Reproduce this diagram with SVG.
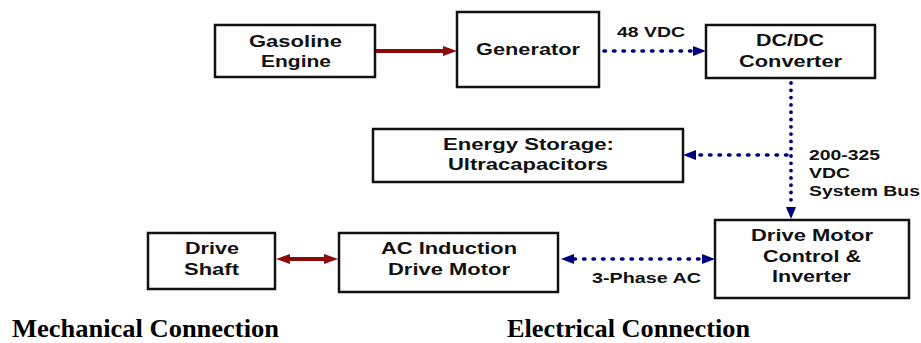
<svg xmlns="http://www.w3.org/2000/svg" width="921" height="343" viewBox="0 0 921 343">
<style>
.box{fill:#fff;stroke:#111;stroke-width:2.5}
.t{font-family:"Liberation Sans",Arial,sans-serif;font-weight:bold;font-size:17px;fill:#111}
.s{font-size:15px}
.cap{font-family:"Liberation Serif","Times New Roman",serif;font-weight:bold;font-size:25px;fill:#000}
.mech{stroke:#8b0a0a;stroke-width:4;fill:none}
.elh{stroke:#00007f;stroke-width:3.5;fill:none;stroke-dasharray:1.5 8;stroke-linecap:round}
.elv{stroke:#00007f;stroke-width:3.8;fill:none;stroke-dasharray:0 7.3;stroke-linecap:round}
</style>
<defs>
<marker id="ar" markerUnits="userSpaceOnUse" markerWidth="15" markerHeight="11" refX="1" refY="5" orient="auto-start-reverse"><path d="M0,0 L14,5 L0,10 z" fill="#8b0a0a"/></marker>
<marker id="ab" markerUnits="userSpaceOnUse" markerWidth="14" markerHeight="11" refX="0" refY="5" orient="auto-start-reverse"><path d="M0,0 L13,5 L0,10 z" fill="#00007f"/></marker>
</defs>
<rect width="921" height="343" fill="#fff"/>
<g id="connectors">
<line class="mech" x1="376" y1="51" x2="444" y2="51" marker-end="url(#ar)"/>
<line class="mech" x1="289" y1="259" x2="325" y2="259" marker-start="url(#ar)" marker-end="url(#ar)"/>
<line class="elh" x1="604" y1="51" x2="693" y2="51" marker-end="url(#ab)"/>
<line class="elv" x1="791" y1="83" x2="791" y2="207"/>
<path d="M786,207 L796,207 L791,219 z" fill="#00007f"/>
<line class="elh" x1="787" y1="155" x2="696" y2="155" marker-end="url(#ab)"/>
<line class="elh" x1="574" y1="259" x2="702" y2="259" marker-start="url(#ab)" marker-end="url(#ab)"/>
<text class="t s" x="617" y="37" textLength="68" lengthAdjust="spacingAndGlyphs">48 VDC</text>
<text class="t s" x="809" y="160" textLength="71" lengthAdjust="spacingAndGlyphs">200-325</text>
<text class="t s" x="809" y="178" textLength="41" lengthAdjust="spacingAndGlyphs">VDC</text>
<text class="t s" x="809" y="196" textLength="111" lengthAdjust="spacingAndGlyphs">System Bus</text>
<text class="t s" x="592" y="283" textLength="109" lengthAdjust="spacingAndGlyphs">3-Phase AC</text>
</g>
<g id="gasoline-engine">
<rect class="box" x="215" y="25" width="160" height="52"/>
<text class="t" x="249" y="47" textLength="93" lengthAdjust="spacingAndGlyphs">Gasoline</text>
<text class="t" x="261" y="67" textLength="70" lengthAdjust="spacingAndGlyphs">Engine</text>
</g>
<g id="generator">
<rect class="box" x="457" y="12" width="142" height="75"/>
<text class="t" x="476" y="55" textLength="104" lengthAdjust="spacingAndGlyphs">Generator</text>
</g>
<g id="dcdc-converter">
<rect class="box" x="706" y="25" width="169" height="53"/>
<text class="t" x="756" y="46" textLength="68" lengthAdjust="spacingAndGlyphs">DC/DC</text>
<text class="t" x="739" y="67" textLength="103" lengthAdjust="spacingAndGlyphs">Converter</text>
</g>
<g id="energy-storage">
<rect class="box" x="373" y="129" width="310" height="53"/>
<text class="t" x="443" y="150" textLength="171" lengthAdjust="spacingAndGlyphs">Energy Storage:</text>
<text class="t" x="448" y="170" textLength="160" lengthAdjust="spacingAndGlyphs">Ultracapacitors</text>
</g>
<g id="drive-shaft">
<rect class="box" x="148" y="233" width="127" height="56"/>
<text class="t" x="185" y="254" textLength="54" lengthAdjust="spacingAndGlyphs">Drive</text>
<text class="t" x="184" y="275" textLength="55" lengthAdjust="spacingAndGlyphs">Shaft</text>
</g>
<g id="ac-induction-motor">
<rect class="box" x="339" y="233" width="219" height="59"/>
<text class="t" x="381" y="254" textLength="136" lengthAdjust="spacingAndGlyphs">AC Induction</text>
<text class="t" x="388" y="275" textLength="122" lengthAdjust="spacingAndGlyphs">Drive Motor</text>
</g>
<g id="drive-motor-control">
<rect class="box" x="715" y="220" width="194" height="78"/>
<text class="t" x="751" y="241" textLength="122" lengthAdjust="spacingAndGlyphs">Drive Motor</text>
<text class="t" x="763" y="262" textLength="98" lengthAdjust="spacingAndGlyphs">Control &amp;</text>
<text class="t" x="772" y="282" textLength="79" lengthAdjust="spacingAndGlyphs">Inverter</text>
</g>
<g id="legend">
<text class="cap" x="12" y="337" textLength="267" lengthAdjust="spacingAndGlyphs">Mechanical Connection</text>
<text class="cap" x="507" y="337" textLength="243" lengthAdjust="spacingAndGlyphs">Electrical Connection</text>
</g>
</svg>
